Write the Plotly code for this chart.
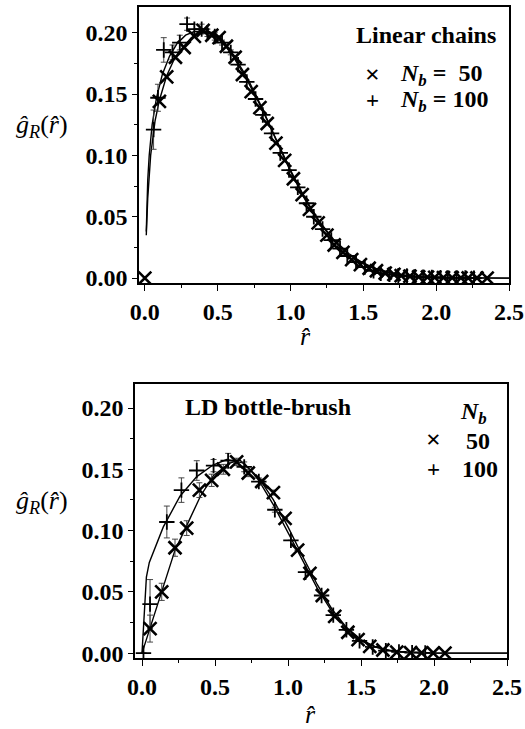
import plotly.graph_objects as go

W, H = 525, 729

# ---------------- data: top panel (linear chains) ----------------
lin50_r = [0.00, 0.10, 0.15, 0.21, 0.27, 0.34, 0.40, 0.46, 0.51, 0.56, 0.62, 0.67, 0.73, 0.79,
           0.84, 0.90, 0.96, 1.02, 1.08, 1.13, 1.19, 1.25, 1.30, 1.36, 1.42, 1.48, 1.54, 1.59,
           1.65, 1.71, 1.76, 1.82, 1.88, 1.94, 1.99, 2.05, 2.11, 2.17, 2.22, 2.28, 2.35]
lin50_g = [0.000, 0.144, 0.164, 0.180, 0.188, 0.197, 0.202, 0.198, 0.196, 0.189, 0.180, 0.166,
           0.152, 0.139, 0.126, 0.110, 0.096, 0.081, 0.068, 0.056, 0.045, 0.035, 0.027, 0.021,
           0.015, 0.011, 0.008, 0.006, 0.004, 0.003, 0.002, 0.0015, 0.001, 0.0008, 0.0006,
           0.0004, 0.0003, 0.0002, 0.0001, 0.0001, 0.0]

lin100_r = [0.06, 0.09, 0.13, 0.19, 0.24, 0.29, 0.34, 0.39, 0.43, 0.48, 0.53, 0.59, 0.64, 0.70,
            0.76, 0.81, 0.87, 0.93, 0.99, 1.05, 1.11, 1.16, 1.22, 1.28, 1.34, 1.39, 1.45, 1.51,
            1.57, 1.62, 1.68, 1.74, 1.80, 1.85, 1.91, 1.97, 2.03, 2.08, 2.14, 2.20, 2.26]
lin100_g = [0.121, 0.147, 0.186, 0.184, 0.192, 0.207, 0.203, 0.203, 0.200, 0.197, 0.192, 0.184,
            0.174, 0.160, 0.146, 0.133, 0.118, 0.102, 0.088, 0.074, 0.061, 0.050, 0.040, 0.031,
            0.024, 0.018, 0.013, 0.009, 0.006, 0.004, 0.003, 0.002, 0.0015, 0.001, 0.0008,
            0.0005, 0.0003, 0.0002, 0.0001, 0.0001, 0.0]
lin100_err = [0.016, 0.011, 0.010, 0.006, 0.006, 0.005, 0.004, 0.004, 0.003, 0.003, 0.002, 0.002,
              0, 0, 0, 0, 0, 0, 0, 0, 0, 0, 0, 0, 0, 0, 0, 0, 0, 0, 0, 0, 0, 0, 0, 0, 0, 0, 0, 0, 0]

fit_lin100_r = [0.01, 0.02, 0.03, 0.05, 0.08, 0.12, 0.17, 0.22, 0.28, 0.34, 0.40, 0.46, 0.52, 0.60,
                0.70, 0.80, 0.90, 1.00, 1.10, 1.20, 1.30, 1.40, 1.50, 1.60, 1.70, 1.80, 1.90,
                2.00, 2.20, 2.50]
fit_lin100_g = [0.038, 0.080, 0.100, 0.125, 0.147, 0.166, 0.181, 0.191, 0.198, 0.201, 0.201,
                0.199, 0.194, 0.183, 0.164, 0.140, 0.113, 0.087, 0.064, 0.045, 0.030, 0.019,
                0.012, 0.007, 0.004, 0.002, 0.001, 0.0006, 0.0002, 0.0]
fit_lin50_r = [0.01, 0.02, 0.04, 0.07, 0.10, 0.15, 0.20, 0.26, 0.32, 0.38, 0.44, 0.50, 0.60,
               0.70, 0.80, 0.90, 1.00, 1.10, 1.20, 1.30, 1.40, 1.50, 1.60, 1.70, 1.80, 1.90,
               2.00, 2.20, 2.50]
fit_lin50_g = [0.035, 0.065, 0.100, 0.128, 0.145, 0.165, 0.178, 0.188, 0.196, 0.200, 0.201,
               0.197, 0.182, 0.162, 0.139, 0.113, 0.088, 0.065, 0.046, 0.031, 0.020, 0.012,
               0.007, 0.004, 0.002, 0.001, 0.0006, 0.0002, 0.0]

# ---------------- data: bottom panel (LD bottle-brush) ----------------
bb50_r = [0.055, 0.135, 0.226, 0.306, 0.393, 0.477, 0.557, 0.648, 0.728, 0.82, 0.90, 0.98,
          1.066, 1.15, 1.235, 1.32, 1.41, 1.48, 1.56, 1.65, 1.745, 1.84, 1.915, 1.995, 2.075]
bb50_g = [0.020, 0.050, 0.086, 0.102, 0.133, 0.141, 0.150, 0.156, 0.147, 0.140, 0.131, 0.110,
          0.084, 0.065, 0.047, 0.030, 0.017, 0.011, 0.0055, 0.0025, 0.0008, 0.0003, 0.0002,
          0.0001, 0.0]
bb50_err = [0.011, 0.007, 0.007, 0.006, 0.006, 0.005, 0.004, 0.003, 0.003, 0.002, 0.002, 0,
            0, 0, 0, 0, 0, 0, 0, 0, 0, 0, 0, 0, 0]

bb100_r = [0.01, 0.055, 0.17, 0.27, 0.375, 0.49, 0.59, 0.70, 0.80, 0.91, 1.02, 1.12, 1.23, 1.31,
           1.40, 1.49, 1.58, 1.67, 1.76, 1.85, 1.94]
bb100_g = [0.000, 0.040, 0.107, 0.133, 0.149, 0.153, 0.157, 0.152, 0.140, 0.117, 0.092, 0.066,
           0.047, 0.031, 0.019, 0.010, 0.005, 0.002, 0.001, 0.0004, 0.0002]
bb100_err = [0, 0.020, 0.013, 0.010, 0.008, 0.005, 0.006, 0.004, 0.003, 0.002, 0, 0, 0, 0, 0,
             0, 0, 0, 0, 0, 0]

fit_bb100_r = [0.00, 0.01, 0.02, 0.03, 0.05, 0.077, 0.146, 0.26, 0.375, 0.486, 0.58, 0.70, 0.80,
               0.90, 1.00, 1.10, 1.20, 1.30, 1.40, 1.50, 1.60, 1.70, 1.80, 2.00, 2.50]
fit_bb100_g = [0.000, 0.020, 0.045, 0.062, 0.074, 0.082, 0.103, 0.128, 0.144, 0.1535, 0.158,
               0.155, 0.141, 0.121, 0.098, 0.075, 0.053, 0.034, 0.020, 0.010, 0.005, 0.002,
               0.0008, 0.0001, 0.0]
fit_bb50_r = [0.00, 0.055, 0.135, 0.226, 0.306, 0.40, 0.49, 0.60, 0.67, 0.80, 0.90, 1.00, 1.10,
              1.20, 1.30, 1.40, 1.50, 1.60, 1.70, 1.80, 2.00, 2.50]
fit_bb50_g = [0.000, 0.020, 0.050, 0.084, 0.104, 0.128, 0.145, 0.155, 0.1575, 0.143, 0.125,
              0.103, 0.079, 0.056, 0.036, 0.021, 0.011, 0.005, 0.002, 0.0008, 0.0001, 0.0]

x_ticks = [0.0, 0.5, 1.0, 1.5, 2.0, 2.5]
x_tick_text = ["0.0", "0.5", "1.0", "1.5", "2.0", "2.5"]
y_ticks = [0.00, 0.05, 0.10, 0.15, 0.20]
y_tick_text = ["0.00", "0.05", "0.10", "0.15", "0.20"]

# ---------------- figure ----------------
SERIF = "Liberation Serif"
fig = go.Figure()

def px(x):
    return x / W

def py(y):
    return 1 - y / H

line_style = dict(color="black", width=1.4)
x_marker = dict(symbol="x-thin", size=13, color="black", line=dict(color="black", width=2.6))
p_marker = dict(symbol="cross-thin", size=11, color="black", line=dict(color="black", width=1.8))
err_style = dict(type="data", visible=True, color="#333333", thickness=0.9, width=3)

for axx, axy, fits, m50, m100 in [
    ("x", "y",
     [(fit_lin50_r, fit_lin50_g), (fit_lin100_r, fit_lin100_g)],
     (lin50_r, lin50_g, None), (lin100_r, lin100_g, lin100_err)),
    ("x2", "y2",
     [(fit_bb50_r, fit_bb50_g), (fit_bb100_r, fit_bb100_g)],
     (bb50_r, bb50_g, bb50_err), (bb100_r, bb100_g, bb100_err)),
]:
    for fr, fg in fits:
        fig.add_trace(go.Scatter(x=fr, y=fg, mode="lines", line=line_style, xaxis=axx, yaxis=axy,
                                 showlegend=False, hoverinfo="skip"))
    r, g, e = m100
    fig.add_trace(go.Scatter(x=r, y=g, mode="markers", marker=p_marker, xaxis=axx, yaxis=axy,
                             error_y=dict(array=e, **err_style) if e else None, showlegend=False))
    r, g, e = m50
    fig.add_trace(go.Scatter(x=r, y=g, mode="markers", marker=x_marker, xaxis=axx, yaxis=axy,
                             error_y=dict(array=e, **err_style) if e else None, showlegend=False))

tickfont = dict(family=SERIF, size=24, color="black", weight="bold")

def xaxis(domain, rng, anchor):
    return dict(domain=domain, range=rng, anchor=anchor, showgrid=False, zeroline=False,
                showline=True, linecolor="black", linewidth=1.5, mirror=True,
                ticks="outside", ticklen=6, tickwidth=1.3, tickcolor="black",
                tickvals=x_ticks, ticktext=x_tick_text, tickfont=tickfont,
                minor=dict(ticks="outside", ticklen=3, tickwidth=1, tickcolor="black", dtick=0.25,
                           tick0=0),
                fixedrange=True)

def yaxis(domain, rng, anchor):
    return dict(domain=domain, range=rng, anchor=anchor, showgrid=False, zeroline=False,
                showline=True, linecolor="black", linewidth=1.5, mirror=True,
                ticks="outside", ticklen=5, tickwidth=1.3, tickcolor="black",
                tickvals=y_ticks, ticktext=y_tick_text, tickfont=tickfont,
                minor=dict(ticks="outside", ticklen=3, tickwidth=1, tickcolor="black", dtick=0.025,
                           tick0=0),
                fixedrange=True)

fig.update_layout(
    width=W, height=H,
    margin=dict(l=0, r=0, t=0, b=0, autoexpand=False),
    paper_bgcolor="white", plot_bgcolor="white",
    xaxis=xaxis([px(139), px(509)], [-0.04, 2.5], "y"),
    yaxis=yaxis([py(283), py(7)], [-0.004, 0.221], "x"),
    xaxis2=xaxis([px(135), px(507)], [-0.048, 2.5], "y2"),
    yaxis2=yaxis([py(658), py(384)], [-0.004, 0.2196], "x2"),
    showlegend=False,
)

def ann(text, x, y, size=24, xanchor="center", bold=True, italic=False):
    fig.add_annotation(text=text, x=px(x), y=py(y), xref="paper", yref="paper",
                       xanchor=xanchor, yanchor="middle", showarrow=False,
                       font=dict(family=SERIF, size=size, color="black",
                                 weight="bold" if bold else "normal",
                                 style="italic" if italic else "normal"))

ytitle = "<i>ĝ</i><sub><i>R</i></sub>(<i>r̂</i>)"
# top panel texts
ann("Linear chains", 426, 35)
ann("×", 372, 74, size=26, bold=True)
ann("+", 372, 101, size=23, bold=True)
ann("<i>N</i><sub><i>b</i></sub> =  50", 398, 75, xanchor="left")
ann("<i>N</i><sub><i>b</i></sub> = 100", 398, 101, xanchor="left")
ann(ytitle, 42, 126, size=26, bold=False)
ann("<i>r̂</i>", 305, 336, size=26, bold=False)

# bottom panel texts
ann("LD bottle-brush", 268, 407)
ann("<i>N</i><sub><i>b</i></sub>", 473, 413)
ann("×", 433, 440, size=26, bold=True)
ann("50", 478, 441)
ann("+", 433, 469, size=23, bold=True)
ann("100", 480, 469)
ann(ytitle, 42, 502, size=26, bold=False)
ann("<i>r̂</i>", 310, 714, size=26, bold=False)

fig.write_html("out.html")
